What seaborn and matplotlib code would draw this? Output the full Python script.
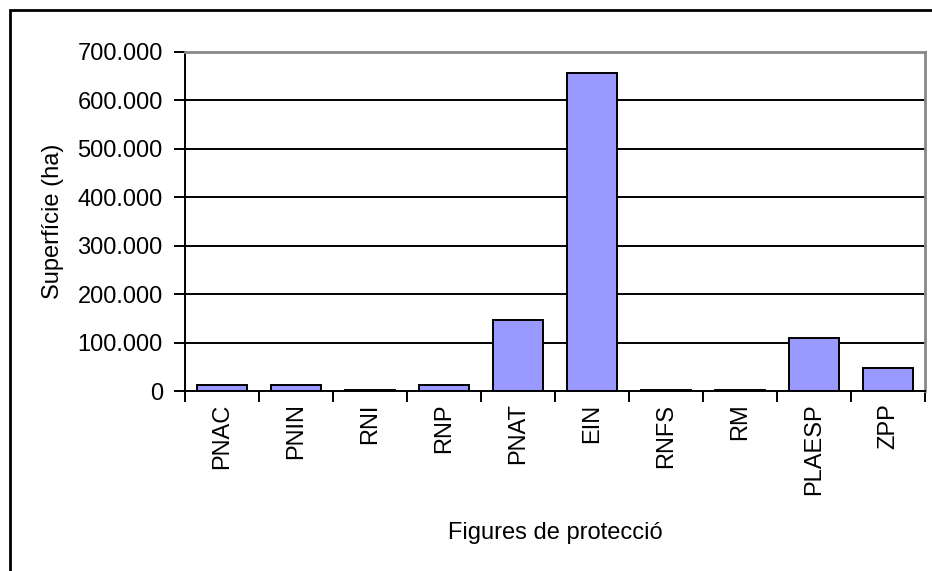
import matplotlib
matplotlib.use("Agg")
import matplotlib.pyplot as plt
import seaborn as sns
import pandas as pd
from matplotlib.patches import Rectangle
from matplotlib.ticker import FuncFormatter, FixedLocator

# Superfície per figura de protecció (ha)
categories = ["PNAC", "PNIN", "RNI", "RNP", "PNAT", "EIN", "RNFS", "RM", "PLAESP", "ZPP"]
superficie = [13000, 11500, 1200, 13000, 146000, 656000, 2000, 1200, 110000, 48000]

df = pd.DataFrame({"figura": categories, "superficie": superficie})

sns.set_style("white")
plt.rcParams["font.family"] = ["Liberation Sans", "DejaVu Sans"]
plt.rcParams["text.color"] = "black"
plt.rcParams["axes.labelcolor"] = "black"
plt.rcParams["xtick.color"] = "black"
plt.rcParams["ytick.color"] = "black"

fig = plt.figure(figsize=(9.32, 5.71), dpi=100)
ax = fig.add_axes([185 / 932, 1 - 391 / 571, 740 / 932, 339 / 571])

# outer chart frame (left and top edges visible)
fig.patches.append(Rectangle((10 / 932, -0.1), 1.2, 1 - 10 / 571 + 0.1,
                             transform=fig.transFigure, fill=False,
                             edgecolor="black", linewidth=2))

ax.set_axisbelow(True)
for v in range(100000, 700000, 100000):
    ax.axhline(v, color="black", linewidth=1.4, zorder=0)

sns.barplot(data=df, x="figura", y="superficie", color="#9999FF",
            edgecolor="black", linewidth=1.4, width=0.67, saturation=1, ax=ax)

ax.set_xlim(-0.5, len(categories) - 0.5)
ax.set_ylim(0, 700000)
ax.set_yticks(range(0, 700001, 100000))
ax.yaxis.set_major_formatter(FuncFormatter(lambda v, p: f"{v:,.0f}".replace(",", ".")))

# ticks at category boundaries, labels at centres
ax.xaxis.set_major_locator(FixedLocator([i - 0.5 for i in range(len(categories) + 1)]))
ax.xaxis.set_major_formatter(FuncFormatter(lambda v, p: ""))
ax.xaxis.set_minor_locator(FixedLocator(range(len(categories))))
ax.set_xticklabels(categories, minor=True, rotation=90, fontsize=17)
ax.tick_params(axis="x", which="minor", length=0, pad=9)
ax.tick_params(axis="x", which="major", length=8, width=1.4, color="black", direction="out")
ax.tick_params(axis="y", length=8, width=1.4, color="black", direction="out", labelsize=17, pad=8)
ax.tick_params(bottom=True, left=True)

for side in ["left", "bottom"]:
    ax.spines[side].set_color("black")
    ax.spines[side].set_linewidth(1.4)
for side in ["top", "right"]:
    ax.spines[side].set_color("#888888")
    ax.spines[side].set_linewidth(2)

ax.set_xlabel("Figures de protecció", fontsize=17, labelpad=19)
ax.set_ylabel("Superfície (ha)", fontsize=17, labelpad=10)

fig.savefig("out.png", dpi=100)
